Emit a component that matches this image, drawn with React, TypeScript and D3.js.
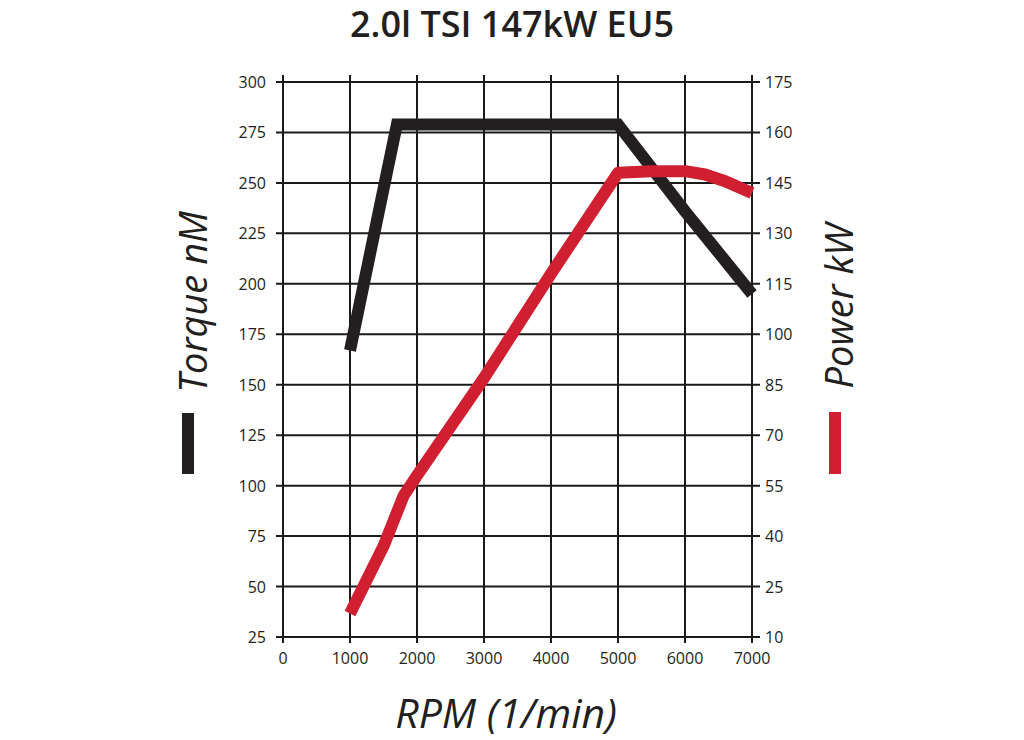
import React from "react";
import { scaleLinear, line, curveLinear } from "d3";

const rpmTicks = [0, 1000, 2000, 3000, 4000, 5000, 6000, 7000];
const torqueTicks = [25, 50, 75, 100, 125, 150, 175, 200, 225, 250, 275, 300];
const powerTicks = [10, 25, 40, 55, 70, 85, 100, 115, 130, 145, 160, 175];

const torqueRpm = [1000, 1700, 5000, 6000, 7000];
const torqueNm = [167, 279, 279, 236, 195];

const powerRpm = [1000, 1500, 1800, 2000, 3000, 4000, 5000, 5500, 6000, 6300, 6600, 7000];
const powerKw = [17, 37, 52, 58, 87, 118, 148, 148.5, 148.5, 147.5, 145.5, 142];

const W = 1024;
const H = 740;
const left = 283;
const right = 752;
const top = 82;
const bottom = 637;

const FONT = "'Open Sans', 'Noto Sans', sans-serif";

export default function App() {
  const x = scaleLinear().domain([0, 7000]).range([left, right]);
  const yT = scaleLinear().domain([25, 300]).range([bottom, top]);
  const yP = scaleLinear().domain([10, 175]).range([bottom, top]);

  const torqueLine = line<number>()
    .x((_, i) => x(torqueRpm[i]))
    .y((d) => yT(d))
    .curve(curveLinear);

  const powerLine = line<number>()
    .x((_, i) => x(powerRpm[i]))
    .y((d) => yP(d))
    .curve(curveLinear);

  return (
    <svg
      width={W}
      height={H}
      viewBox={`0 0 ${W} ${H}`}
      style={{ position: "absolute", left: 0, top: 0, background: "#fff" }}
    >
      <text
        x={512}
        y={37}
        textAnchor="middle"
        fontFamily={FONT}
        fontSize={36}
        fontWeight={600}
        fill="#231f20"
      >
        2.0l TSI 147kW EU5
      </text>

      {/* grid */}
      {rpmTicks.map((t) => (
        <line key={"v" + t} x1={x(t)} x2={x(t)} y1={top - 7} y2={bottom + 6} stroke="#1a1a1a" strokeWidth={2} />
      ))}
      {torqueTicks.map((t) => (
        <line key={"h" + t} x1={left - 7} x2={right + 8} y1={yT(t)} y2={yT(t)} stroke="#1a1a1a" strokeWidth={2} />
      ))}

      {/* tick labels */}
      {torqueTicks.map((t) => (
        <text key={"lt" + t} x={266} y={yT(t) + 6} textAnchor="end" fontFamily={FONT} fontSize={16} fill="#231f20">
          {t}
        </text>
      ))}
      {powerTicks.map((t) => (
        <text key={"rt" + t} x={765} y={yP(t) + 6} textAnchor="start" fontFamily={FONT} fontSize={16} fill="#231f20">
          {t}
        </text>
      ))}
      {rpmTicks.map((t) => (
        <text key={"bt" + t} x={x(t)} y={664} textAnchor="middle" fontFamily={FONT} fontSize={16} fill="#231f20">
          {t}
        </text>
      ))}

      {/* curves */}
      <path d={torqueLine(torqueNm) ?? ""} fill="none" stroke="#231f20" strokeWidth={12} strokeLinejoin="miter" />
      <path d={powerLine(powerKw) ?? ""} fill="none" stroke="#d01f31" strokeWidth={12} strokeLinejoin="round" />

      {/* axis titles */}
      <text
        transform="translate(207,302) rotate(-90)"
        textAnchor="middle"
        fontFamily={FONT}
        fontSize={38}
        fontStyle="italic"
        fontWeight={500}
        fill="#231f20"
      >
        Torque nM
      </text>
      <rect x={182} y={413} width={12} height={61} fill="#231f20" />

      <text
        transform="translate(853,306) rotate(-90)"
        textAnchor="middle"
        fontFamily={FONT}
        fontSize={38}
        fontStyle="italic"
        fontWeight={500}
        fill="#231f20"
      >
        Power kW
      </text>
      <rect x={829} y={412} width={12} height={62} fill="#d01f31" />

      <text
        x={506}
        y={728}
        textAnchor="middle"
        fontFamily={FONT}
        fontSize={41}
        fontStyle="italic"
        fontWeight={500}
        fill="#231f20"
      >
        RPM (1/min)
      </text>
    </svg>
  );
}
